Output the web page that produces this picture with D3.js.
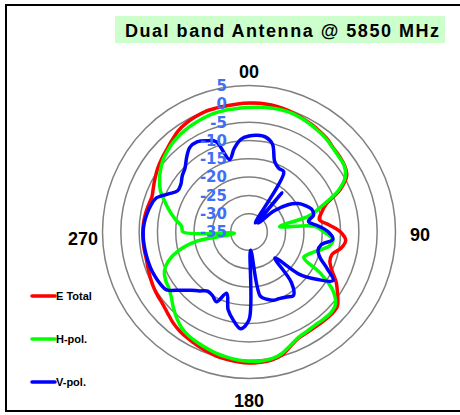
<!DOCTYPE html>
<html>
<head>
<meta charset="utf-8">
<script src="https://cdn.jsdelivr.net/npm/d3@7"></script>
<style>
  body { margin: 0; background: #fff; }
  text { font-family: Arial, "Liberation Sans", sans-serif; }
</style>
</head>
<body>
<div id="chart"></div>
<script>
// Angles (degrees, clockwise from 00)
var angles = [0, 5, 10, 15, 20, 25, 30, 35, 40, 45, 50, 55,
    60, 65, 70, 75, 80, 85, 90, 95, 100, 105, 110, 115,
    120, 125, 130, 135, 140, 145, 150, 155, 160, 165, 170, 175,
    180, 185, 190, 195, 200, 205, 210, 215, 220, 225, 230, 235,
    240, 245, 250, 255, 260, 265, 270, 275, 280, 285, 290, 295,
    300, 305, 310, 315, 320, 325, 330, 335, 340, 345, 350, 355];

// Levels in dB
var eTotal = [0.2, 0.3, 0.2, 0, -0.3, -0.7, -1, -1.4, -1.8, -2.5, -2.8, -3.2,
    -4.2, -7.5, -12.5, -14.5, -15.5, -13, -10, -8.5, -9.5, -11.5, -11.5, -10,
    -7.5, -5.5, -3.5, -3.2, -3.3, -3.4, -3.3, -3, -1.8, -0.2, 0.5, 0.7,
    0.8, 0.6, 0.3, 0, -0.5, -1, -1.5, -2, -2.7, -3.6, -4.3, -4.6,
    -4.9, -5.3, -5.7, -6, -6, -6, -6, -6.1, -6.3, -6.6, -6.8, -6.2,
    -5.4, -4.6, -3.9, -3.2, -2.3, -1.3, -0.7, -0.3, 0, 0, 0, 0.1];

var hPol = [-1, -0.8, -0.6, -0.5, -0.5, -0.8, -1.2, -1.6, -2, -2.6, -3, -3.3,
    -4.6, -8, -13.5, -18, -26.5, -17, -14.5, -12, -12.8, -15.5, -17.5, -18.5,
    -12.5, -7, -4.2, -3.6, -3.7, -3.8, -3.6, -3.2, -2, -0.6, 0.2, 0.4,
    0.3, 0.1, -0.3, -0.7, -1.2, -1.7, -2.2, -3, -4.3, -5.8, -7.3, -8.3,
    -8.7, -9.5, -11.5, -15, -20.5, -31, -17, -16.5, -14.5, -12.5, -10.5, -8.3,
    -6.8, -5.5, -4.4, -3.6, -2.9, -2.4, -2, -1.7, -1.4, -1.2, -1.1, -1.1];

var vPol = [-8.8, -8.5, -8.7, -10.2, -14.5, -15.8, -16, -32, -21, -31.5, -26, -22,
    -19.5, -18, -16.8, -16.7, -18.5, -16, -13.3, -12, -15, -15.5, -14.3, -11.5,
    -8.5, -12.5, -17, -25, -17, -13.8, -14.5, -15, -15.2, -16, -17.2, -30,
    -11, -8.5, -10.5, -13, -17.2, -14, -15, -15.3, -14, -12.5, -10.3, -7.5,
    -6.9, -6.6, -6.4, -6.3, -6.2, -6.1, -6.1, -6.3, -6.7, -7.2, -8, -10.5,
    -12.5, -12.3, -11.2, -10.3, -8.5, -6.8, -6.6, -7.5, -8.8, -14.5, -11.8, -9.6];

var ringLevels = [5, 0, -5, -10, -15, -20, -25, -30];
var tickLevels = [5, 0, -5, -10, -15, -20, -25, -30, -35];
var seriesNames = ["E Total", "H-pol.", "V-pol."];
var seriesColors = ["#ff0000", "#00ff00", "#0000ff"];
var seriesValues = [eTotal, hPol, vPol];
var titleText = "Dual band Antenna @ 5850 MHz";

var width = 460,
    height = 415,
    cx = 249,
    cy = 232,
    outer = 146.5;

var svg = d3.select("#chart").append("svg")
    .attr("width", width)
    .attr("height", height);

// frame
svg.append("rect")
    .attr("x", 6).attr("y", 5)
    .attr("width", 470).attr("height", 406)
    .attr("fill", "none")
    .attr("stroke", "#000")
    .attr("stroke-width", 2);

// title
svg.append("rect")
    .attr("x", 115).attr("y", 16)
    .attr("width", 330).attr("height", 27)
    .attr("fill", "#ccffcc");
svg.append("text")
    .attr("x", 125).attr("y", 37)
    .attr("font-size", "18px")
    .attr("font-weight", "bold")
    .attr("textLength", 314)
    .attr("lengthAdjust", "spacing")
    .text(titleText);

var r = d3.scaleLinear().domain([-35, 5]).range([0, outer]);
var a = d3.scaleLinear().domain([0, 360]).range([0, 2 * Math.PI]);

var g = svg.append("g")
    .attr("transform", "translate(" + cx + "," + cy + ")");

// rings
g.selectAll(".ring")
    .data(ringLevels)
    .enter().append("circle")
    .attr("class", "ring")
    .attr("r", function(d) { return r(d); })
    .attr("fill", "none")
    .attr("stroke", "#808080")
    .attr("stroke-width", 1.5);

// compass labels
var compass = [
    { t: "00", x: 0, y: -154.5 },
    { t: "90", x: 171, y: 9 },
    { t: "180", x: 0, y: 175 },
    { t: "270", x: -166, y: 13 }
];
g.selectAll(".compass")
    .data(compass)
    .enter().append("text")
    .attr("class", "compass")
    .attr("x", function(d) { return d.x; })
    .attr("y", function(d) { return d.y; })
    .attr("text-anchor", "middle")
    .attr("font-size", "18px")
    .attr("font-weight", "bold")
    .text(function(d) { return d.t; });

// series
var line = d3.lineRadial()
    .angle(function(d) { return a(d[0]); })
    .radius(function(d) { return r(d[1]); })
    .curve(d3.curveCatmullRomClosed.alpha(0.5));

seriesValues.forEach(function(vals, i) {
    var pts = angles.map(function(ang, j) { return [ang, vals[j]]; });
    g.append("path")
        .attr("d", line(pts))
        .attr("fill", "none")
        .attr("stroke", seriesColors[i])
        .attr("stroke-width", 3.5)
        .attr("stroke-linejoin", "round");
});

// tick labels
g.selectAll(".tick")
    .data(tickLevels)
    .enter().append("text")
    .attr("class", "tick")
    .attr("x", -22)
    .attr("y", function(d) { return -r(d); })
    .attr("dy", "0.36em")
    .attr("text-anchor", "end")
    .attr("fill", "#3f6ff5")
    .style("font-family", "'DejaVu Sans', Verdana, sans-serif")
    .attr("font-size", "15px")
    .attr("font-weight", "bold")
    .text(function(d) { return d; });

// legend
var legend = svg.selectAll(".legend")
    .data(seriesNames)
    .enter().append("g")
    .attr("class", "legend")
    .attr("transform", function(d, i) { return "translate(32," + (296 + i * 43) + ")"; });

legend.append("line")
    .attr("x1", 0).attr("x2", 23)
    .attr("stroke", function(d, i) { return seriesColors[i]; })
    .attr("stroke-width", 3.5)
    .attr("stroke-linecap", "round");

legend.append("text")
    .attr("x", 24)
    .attr("y", 4)
    .attr("font-size", "11px")
    .attr("font-weight", "bold")
    .text(function(d) { return d; });
</script>
</body>
</html>
